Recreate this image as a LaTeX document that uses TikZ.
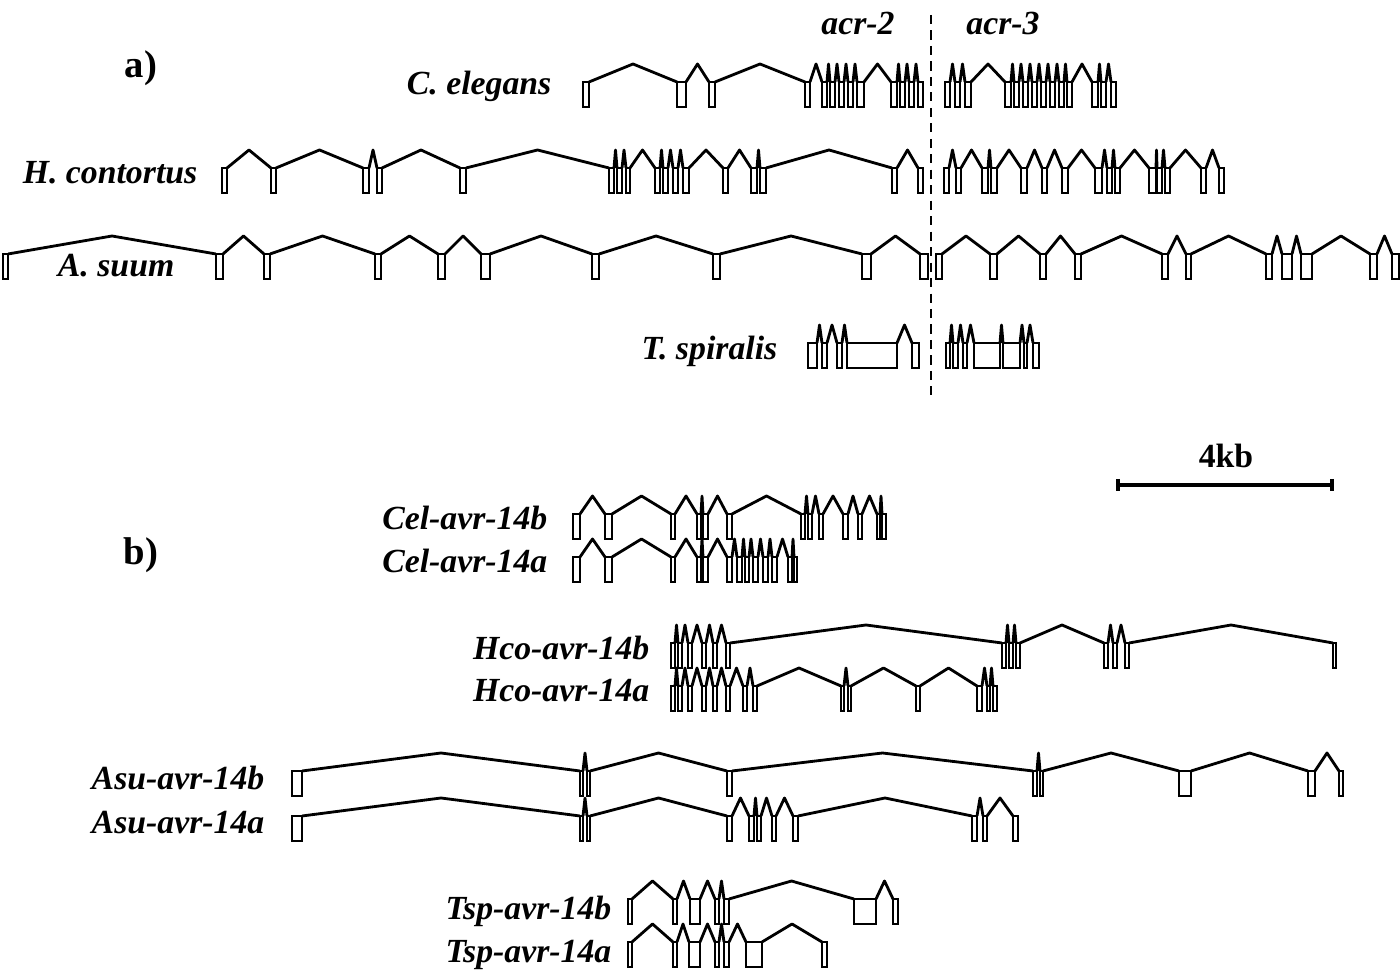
\documentclass[tikz,border=0pt]{standalone}
\usepackage{fontspec}
\setmainfont{Liberation Serif}
\usetikzlibrary{calc}

% one gene: #1 name, #2 top of the exons, #3 list of x/width
\newcommand{\genemodel}[3]{%
	\foreach \xa/\wa [count=\i] in {#3} {
		\pgfmathtruncatemacro{\ip}{\i-1}
		\node[exon, minimum width={\wa*0.01cm}] (#1\i) at (\xa,#2) {};
		\ifnum\i>1
			\draw[intron] (#1\ip.north east) -- ($(#1\ip.north east)!0.5!(#1\i.north west)+(0,-18)$) -- (#1\i.north west);
		\fi
	}%
}

\begin{document}
\begin{tikzpicture}[x=0.01cm, y=-0.01cm,
	exon/.style={draw=black, line width=0.8pt, minimum height=0.25cm, inner sep=0pt, outer sep=0pt, anchor=north west},
	intron/.style={draw=black, line width=0.8pt, line join=round},
	lbl/.style={font=\fontsize{9.6}{11}\selectfont\bfseries\itshape, inner sep=0pt, anchor=base east},
	tag/.style={font=\fontsize{11}{13}\selectfont\bfseries, inner sep=0pt, anchor=base},
	divider/.style={draw=black, line width=0.8pt, dash pattern=on 2.6pt off 1.8pt},
	scalebar/.style={draw=black, line width=1pt}]
	\useasboundingbox (0,0) rectangle (1400,971);

	% a) acr-2 / acr-3
	\node[tag] (pa) at (141,78) {a)};
	\node[lbl, anchor=base] (acr2) at (858,35) {acr-2};
	\node[lbl, anchor=base] (acr3) at (1003,35) {acr-3};
	\coordinate (dtop) at (931,15);
	\coordinate (dbot) at (931,395);
	\draw[divider] (dtop) -- (dbot);

	\node[lbl] (cel) at (552,95) {C. elegans};
	\genemodel{celA}{82}{583/6, 677/9, 709/6, 805/5, 822/5, 830/5, 839/5, 848/5, 857/7, 891/6, 900/5, 909/5, 918/5}
	\genemodel{celB}{82}{945/5, 955/5, 965/6, 1005/6, 1014/5, 1023/5, 1032/5, 1041/5, 1050/5, 1059/5, 1067/5, 1092/6, 1101/5, 1111/5}

	\node[lbl] (hco) at (198,184) {H. contortus};
	\genemodel{hcoA}{168}{222/5, 271/5, 363/6, 377/5, 460/6, 609/5, 617/5, 626/4, 655/5, 663/5, 673/5, 683/6, 723/5, 751/6, 760/6, 892/5, 918/5}
	\genemodel{hcoB}{168}{944/5, 956/5, 982/6, 991/6, 1021/6, 1042/5, 1062/6, 1095/7, 1107/5, 1115/5, 1149/7, 1157/5, 1165/5, 1201/5, 1219/5}

	\node[lbl] (asu) at (175,277) {A. suum};
	\genemodel{asuA}{254}{3/5, 216/7, 264/6, 375/6, 438/7, 481/9, 592/7, 713/7, 862/9, 920/8}
	\genemodel{asuB}{254}{936/6, 990/7, 1040/6, 1075/6, 1162/6, 1186/5, 1266/6, 1282/10, 1301/11, 1370/7, 1392/7}

	\node[lbl] (tsp) at (778,360) {T. spiralis};
	\genemodel{tspA}{343}{808/9, 822/5, 837/5, 847/50, 912/7}
	\genemodel{tspB}{343}{946/4, 953/5, 963/4, 974/26, 1003/17, 1024/3, 1033/6}

	% scale
	\node[tag, font=\fontsize{9.6}{11}\selectfont\bfseries] (kb) at (1226,468) {4kb};
	\coordinate (sbl) at (1118,485);
	\coordinate (sbr) at (1332,485);
	\draw[scalebar] (sbl) -- (sbr);
	\draw[scalebar] ($(sbl)+(0,-6)$) -- ($(sbl)+(0,6)$);
	\draw[scalebar] ($(sbr)+(0,-6)$) -- ($(sbr)+(0,6)$);

	% b) avr-14
	\node[tag] (pb) at (141,565) {b)};

	\node[lbl] (celb) at (548,530) {Cel-avr-14b};
	\genemodel{celb}{514}{573/7, 605/7, 671/4, 697/4, 703/5, 727/5, 801/4, 808/4, 819/4, 843/5, 858/4, 877/3, 882/4}
	\node[lbl] (cela) at (548,573) {Cel-avr-14a};
	\genemodel{cela}{557}{573/7, 605/7, 671/4, 697/4, 703/5, 727/5, 737/5, 745/4, 753/5, 763/5, 772/5, 788/4, 794/3}

	\node[lbl] (hcob) at (650,660) {Hco-avr-14b};
	\genemodel{hcob}{643}{671/4, 678/4, 688/4, 702/4, 713/4, 726/4, 1002/4, 1009/4, 1016/4, 1104/4, 1113/4, 1125/4, 1333/3}
	\node[lbl] (hcoa) at (650,702) {Hco-avr-14a};
	\genemodel{hcoa}{686}{671/4, 678/4, 688/4, 702/4, 713/4, 726/4, 743/4, 753/4, 841/3, 848/3, 916/4, 977/5, 987/3, 993/4}

	\node[lbl] (asub) at (265,790) {Asu-avr-14b};
	\genemodel{asub}{771}{292/10, 580/3, 587/3, 727/5, 1033/4, 1040/3, 1179/12, 1308/7, 1339/4}
	\node[lbl] (asua) at (265,834) {Asu-avr-14a};
	\genemodel{asua}{816}{292/10, 580/3, 587/3, 727/5, 749/5, 757/4, 772/4, 793/5, 972/5, 983/4, 1013/5}

	\node[lbl] (tspb) at (612,920) {Tsp-avr-14b};
	\genemodel{tspb}{899}{628/4, 673/4, 690/10, 715/4, 724/5, 854/22, 893/5}
	\node[lbl] (tspa) at (612,963) {Tsp-avr-14a};
	\genemodel{tspa}{942}{628/4, 673/4, 689/11, 715/4, 724/5, 746/16, 822/5}
\end{tikzpicture}
\end{document}
